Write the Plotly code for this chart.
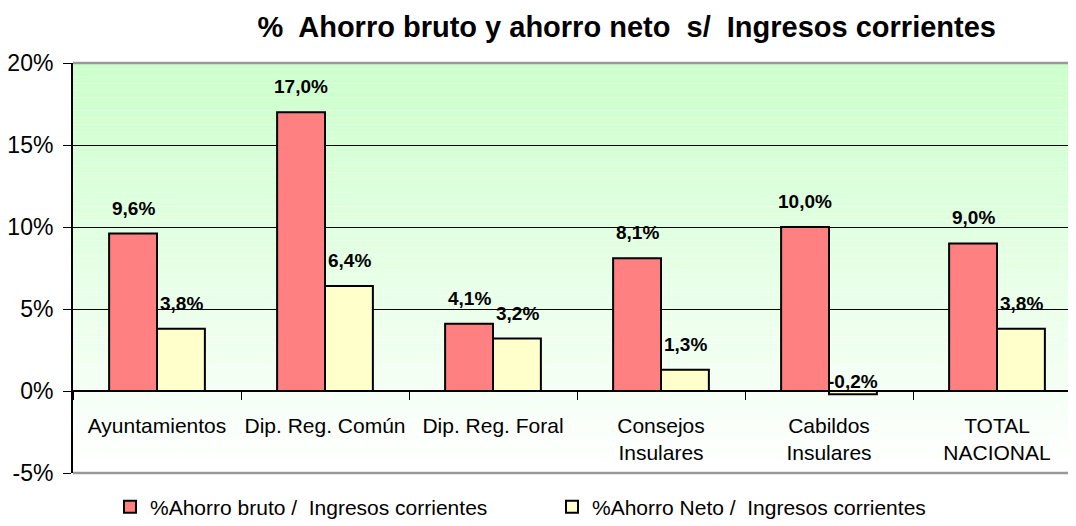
import plotly.graph_objects as go

categories = ["Ayuntamientos", "Dip. Reg. Común", "Dip. Reg. Foral",
              "Consejos<br>Insulares", "Cabildos<br>Insulares", "TOTAL<br>NACIONAL"]
ahorro_bruto = [9.6, 17.0, 4.1, 8.1, 10.0, 9.0]
ahorro_neto = [3.8, 6.4, 3.2, 1.3, -0.2, 3.8]
series_names = ["%Ahorro bruto /  Ingresos corrientes", "%Ahorro Neto /  Ingresos corrientes"]
y_ticks = [-5, 0, 5, 10, 15, 20]
title_text = "%  Ahorro bruto y ahorro neto  s/  Ingresos corrientes"

ARIAL = "Arial, Liberation Sans"

fig = go.Figure()
fig.add_trace(go.Bar(x=categories, y=ahorro_bruto, name=series_names[0],
                     marker=dict(color="#FF8080", line=dict(color="black", width=2))))
fig.add_trace(go.Bar(x=categories, y=ahorro_neto, name=series_names[1],
                     marker=dict(color="#FFFFCC", line=dict(color="black", width=2))))

def fmt(v):
    return ("%.1f%%" % v).replace(".", ",")

ann = []
for vals, shift in ((ahorro_bruto, -24), (ahorro_neto, 24)):
    for c, v in zip(categories, vals):
        ann.append(dict(x=c, y=max(v, 0), xref="x", yref="y", text=fmt(v),
                        showarrow=False, xshift=shift, yshift=13 if v >= 0 else -3,
                        yanchor="bottom", xanchor="center",
                        font=dict(family=ARIAL, size=19, color="black", weight="bold")))

# gradient background strips
shapes = []
n = 60
top = (204, 255, 204)
bot = (255, 255, 255)
for i in range(n):
    t = i / (n - 1)
    col = tuple(round(top[k] + (bot[k] - top[k]) * t) for k in range(3))
    shapes.append(dict(type="rect", xref="x domain", yref="y domain",
                       x0=0, x1=1, y0=1 - (i + 1) / n, y1=1 - i / n,
                       fillcolor="rgb(%d,%d,%d)" % col, line=dict(width=0), layer="below"))
# top and bottom gray borders
for yy in (0, 1):
    shapes.append(dict(type="line", xref="x domain", yref="y domain", x0=0, x1=1,
                       y0=yy, y1=yy, line=dict(color="#9a9a9a", width=2.5)))

fig.update_layout(
    width=1076, height=526,
    margin=dict(l=65, r=3, t=55, b=61, autoexpand=False),
    paper_bgcolor="white", plot_bgcolor="white",
    barmode="group", bargap=0.43, bargroupgap=0,
    title=dict(text=title_text, x=0.575, xanchor="center", xref="container",
               y=0.964, yanchor="middle", yref="container",
               font=dict(family=ARIAL, size=29, color="black", weight="bold")),
    xaxis=dict(type="category", range=[-0.5, 5.5], anchor="free", position=0.2,
               showline=False, showgrid=False, ticks="outside", tickson="boundaries",
               ticklen=8, tickcolor="black", tickwidth=1, tickangle=0, automargin=False,
               ticklabelstandoff=20,
               tickfont=dict(family=ARIAL, size=21, color="black")),
    yaxis=dict(range=[-5, 20], tickvals=y_ticks, ticktext=["%d%%" % v for v in y_ticks],
               showgrid=True, automargin=False,
               gridcolor="black", gridwidth=1, zeroline=True, zerolinecolor="black",
               zerolinewidth=1.5, showline=True, linecolor="black", linewidth=2,
               ticks="outside", ticklen=8, tickcolor="black", ticklabelstandoff=5,
               tickfont=dict(family=ARIAL, size=23, color="black")),
    legend=dict(orientation="h", x=0.0367, xanchor="left", y=-0.033, yanchor="top",
                font=dict(family=ARIAL, size=21, color="black"),
                entrywidth=397, entrywidthmode="pixels", bgcolor="rgba(0,0,0,0)"),
    annotations=ann, shapes=shapes,
)
fig.write_html("out.html")
